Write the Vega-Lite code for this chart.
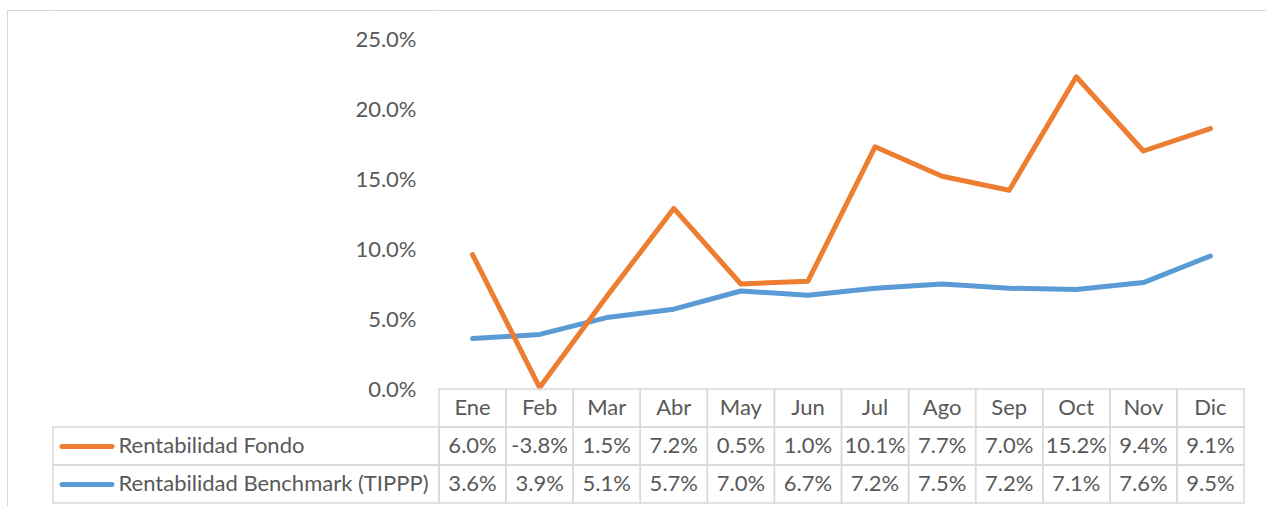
{
  "$schema": "https://vega.github.io/schema/vega-lite/v6.json",
  "datasets": {
    "tabla": [
      {"mes": "Ene", "serie": "Rentabilidad Fondo", "valor": 0.060},
      {"mes": "Feb", "serie": "Rentabilidad Fondo", "valor": -0.038},
      {"mes": "Mar", "serie": "Rentabilidad Fondo", "valor": 0.015},
      {"mes": "Abr", "serie": "Rentabilidad Fondo", "valor": 0.072},
      {"mes": "May", "serie": "Rentabilidad Fondo", "valor": 0.005},
      {"mes": "Jun", "serie": "Rentabilidad Fondo", "valor": 0.010},
      {"mes": "Jul", "serie": "Rentabilidad Fondo", "valor": 0.101},
      {"mes": "Ago", "serie": "Rentabilidad Fondo", "valor": 0.077},
      {"mes": "Sep", "serie": "Rentabilidad Fondo", "valor": 0.070},
      {"mes": "Oct", "serie": "Rentabilidad Fondo", "valor": 0.152},
      {"mes": "Nov", "serie": "Rentabilidad Fondo", "valor": 0.094},
      {"mes": "Dic", "serie": "Rentabilidad Fondo", "valor": 0.091},
      {"mes": "Ene", "serie": "Rentabilidad Benchmark (TIPPP)", "valor": 0.036},
      {"mes": "Feb", "serie": "Rentabilidad Benchmark (TIPPP)", "valor": 0.039},
      {"mes": "Mar", "serie": "Rentabilidad Benchmark (TIPPP)", "valor": 0.051},
      {"mes": "Abr", "serie": "Rentabilidad Benchmark (TIPPP)", "valor": 0.057},
      {"mes": "May", "serie": "Rentabilidad Benchmark (TIPPP)", "valor": 0.070},
      {"mes": "Jun", "serie": "Rentabilidad Benchmark (TIPPP)", "valor": 0.067},
      {"mes": "Jul", "serie": "Rentabilidad Benchmark (TIPPP)", "valor": 0.072},
      {"mes": "Ago", "serie": "Rentabilidad Benchmark (TIPPP)", "valor": 0.075},
      {"mes": "Sep", "serie": "Rentabilidad Benchmark (TIPPP)", "valor": 0.072},
      {"mes": "Oct", "serie": "Rentabilidad Benchmark (TIPPP)", "valor": 0.071},
      {"mes": "Nov", "serie": "Rentabilidad Benchmark (TIPPP)", "valor": 0.076},
      {"mes": "Dic", "serie": "Rentabilidad Benchmark (TIPPP)", "valor": 0.095}
    ]
  },
  "padding": {"left": 7, "top": 10, "right": 0, "bottom": 0},
  "autosize": {"type": "pad"},
  "columns": 3,
  "spacing": 0,
  "bounds": "flush",
  "align": "each",
  "config": {
    "view": {"stroke": null},
    "font": "Lato",
    "locale": {"number": {"decimal": ".", "thousands": ",", "grouping": [3], "currency": ["$", ""], "minus": "-"}},
    "text": {"color": "#595959", "fontSize": 22},
    "axis": {"domainColor": "#d9d9d9", "domainWidth": 1}
  },
  "concat": [
    {
      "width": 46, "height": 29,
      "data": {"values": [{}]},
      "mark": {"type": "point", "opacity": 0},
      "encoding": {
        "x": {"datum": 0.5, "type": "quantitative", "scale": {"domain": [0, 1]}, "axis": {"orient": "top", "labels": false, "ticks": false, "grid": false, "title": null}},
        "y": {"datum": 0.5, "type": "quantitative", "scale": {"domain": [0, 1]}, "axis": {"orient": "left", "labels": false, "ticks": false, "grid": false, "title": null}}
      }
    },
    {
      "width": 386, "height": 29,
      "data": {"values": [{}]},
      "mark": {"type": "point", "opacity": 0},
      "encoding": {
        "x": {"datum": 0.5, "type": "quantitative", "scale": {"domain": [0, 1]}, "axis": {"orient": "top", "labels": false, "ticks": false, "grid": false, "title": null}},
        "y": {"datum": 0.5, "type": "quantitative", "scale": {"domain": [0, 1]}, "axis": null}
      }
    },
    {
      "width": 827, "height": 29,
      "data": {"values": [{}]},
      "mark": {"type": "point", "opacity": 0},
      "encoding": {
        "x": {"datum": 0.5, "type": "quantitative", "scale": {"domain": [0, 1]}, "axis": {"orient": "top", "labels": false, "ticks": false, "grid": false, "title": null}},
        "y": {"datum": 0.5, "type": "quantitative", "scale": {"domain": [0, 1]}, "axis": null}
      }
    },
    {
      "width": 46, "height": 350,
      "data": {"values": [{}]},
      "mark": {"type": "point", "opacity": 0},
      "encoding": {
        "x": {"datum": 0.5, "type": "quantitative", "scale": {"domain": [0, 1]}, "axis": null},
        "y": {"datum": 0.5, "type": "quantitative", "scale": {"domain": [0, 1]}, "axis": {"orient": "left", "labels": false, "ticks": false, "grid": false, "title": null}}
      }
    },
    {
      "width": 386, "height": 350,
      "data": {"values": [{}]},
      "mark": {"type": "text", "text": ""}
    },
    {
      "width": 805,
      "height": 350,
      "data": {"name": "tabla"},
      "transform": [
        {"window": [{"op": "sum", "field": "valor", "as": "acumulado"}], "groupby": ["mes"], "sort": [{"field": "serie", "order": "ascending"}], "frame": [null, 0]}
      ],
      "encoding": {
        "x": {"field": "mes", "type": "nominal", "sort": ["Ene","Feb","Mar","Abr","May","Jun","Jul","Ago","Sep","Oct","Nov","Dic"], "scale": {"type": "point", "padding": 0.5}, "axis": null},
        "y": {"field": "acumulado", "type": "quantitative", "scale": {"domain": [0, 0.25], "nice": false},
          "axis": {"values": [0, 0.05, 0.1, 0.15, 0.2, 0.25], "format": ".1%", "domain": false, "ticks": false, "grid": false, "labelPadding": 23, "labelFontSize": 22, "labelColor": "#595959", "title": null}}
      },
      "layer": [
        {"transform": [{"filter": "datum.serie === 'Rentabilidad Benchmark (TIPPP)'"}], "mark": {"type": "line", "color": "#5B9BD5", "strokeWidth": 5, "strokeCap": "round", "strokeJoin": "round"}},
        {"transform": [{"filter": "datum.serie === 'Rentabilidad Fondo'"}], "mark": {"type": "line", "color": "#ED7D31", "strokeWidth": 5, "strokeCap": "round", "strokeJoin": "round"}}
      ]
    },
    {
      "width": 46, "height": 117,
      "data": {"values": [{}]},
      "mark": {"type": "point", "opacity": 0},
      "encoding": {
        "x": {"datum": 0.5, "type": "quantitative", "scale": {"domain": [0, 1]}, "axis": null},
        "y": {"datum": 0.5, "type": "quantitative", "scale": {"domain": [0, 1]}, "axis": {"orient": "left", "labels": false, "ticks": false, "grid": false, "title": null}}
      }
    },
    {
      "width": 386,
      "height": 114,
      "data": {"name": "tabla"},
      "transform": [{"aggregate": [{"op": "count", "as": "n"}], "groupby": ["serie"]}],
      "mark": {"type": "rect", "fill": "transparent", "stroke": "#d9d9d9", "strokeWidth": 1.5},
      "encoding": {
        "y": {"field": "serie", "type": "nominal", "scale": {"domain": ["Mes", "Rentabilidad Fondo", "Rentabilidad Benchmark (TIPPP)"], "paddingInner": 0, "paddingOuter": 0},
          "axis": {"orient": "left", "offset": -8.5, "values": ["Rentabilidad Fondo", "Rentabilidad Benchmark (TIPPP)"], "domain": false, "title": null,
            "tickSize": -50, "tickWidth": 5, "tickCap": "round",
            "tickColor": {"condition": {"test": "datum.value === 'Rentabilidad Fondo'", "value": "#ED7D31"}, "value": "#5B9BD5"},
            "labelAlign": "left", "labelPadding": -6.5, "labelFontSize": 22, "labelColor": "#595959", "labelLimit": 400}}
      }
    },
    {
      "width": 805,
      "height": 114,
      "data": {"name": "tabla"},
      "encoding": {
        "x": {"field": "mes", "type": "nominal", "sort": ["Ene","Feb","Mar","Abr","May","Jun","Jul","Ago","Sep","Oct","Nov","Dic"], "scale": {"type": "band", "paddingInner": 0, "paddingOuter": 0}, "axis": null}
      },
      "layer": [
        {
          "mark": {"type": "rect", "fill": "transparent", "stroke": "#d9d9d9", "strokeWidth": 1.5},
          "encoding": {"y": {"field": "serie", "type": "nominal", "scale": {"domain": ["Mes", "Rentabilidad Fondo", "Rentabilidad Benchmark (TIPPP)"], "paddingInner": 0, "paddingOuter": 0}, "axis": null}}
        },
        {
          "mark": {"type": "text"},
          "encoding": {"y": {"field": "serie", "type": "nominal"}, "text": {"field": "valor", "type": "quantitative", "format": ".1%"}}
        },
        {
          "transform": [{"filter": "datum.serie === 'Rentabilidad Fondo'"}],
          "mark": {"type": "rect", "fill": "transparent", "stroke": "#d9d9d9", "strokeWidth": 1.5},
          "encoding": {"y": {"datum": "Mes", "type": "nominal"}}
        },
        {
          "transform": [{"filter": "datum.serie === 'Rentabilidad Fondo'"}],
          "mark": {"type": "text"},
          "encoding": {"y": {"datum": "Mes", "type": "nominal"}, "text": {"field": "mes", "type": "nominal"}}
        }
      ]
    }
  ]
}
